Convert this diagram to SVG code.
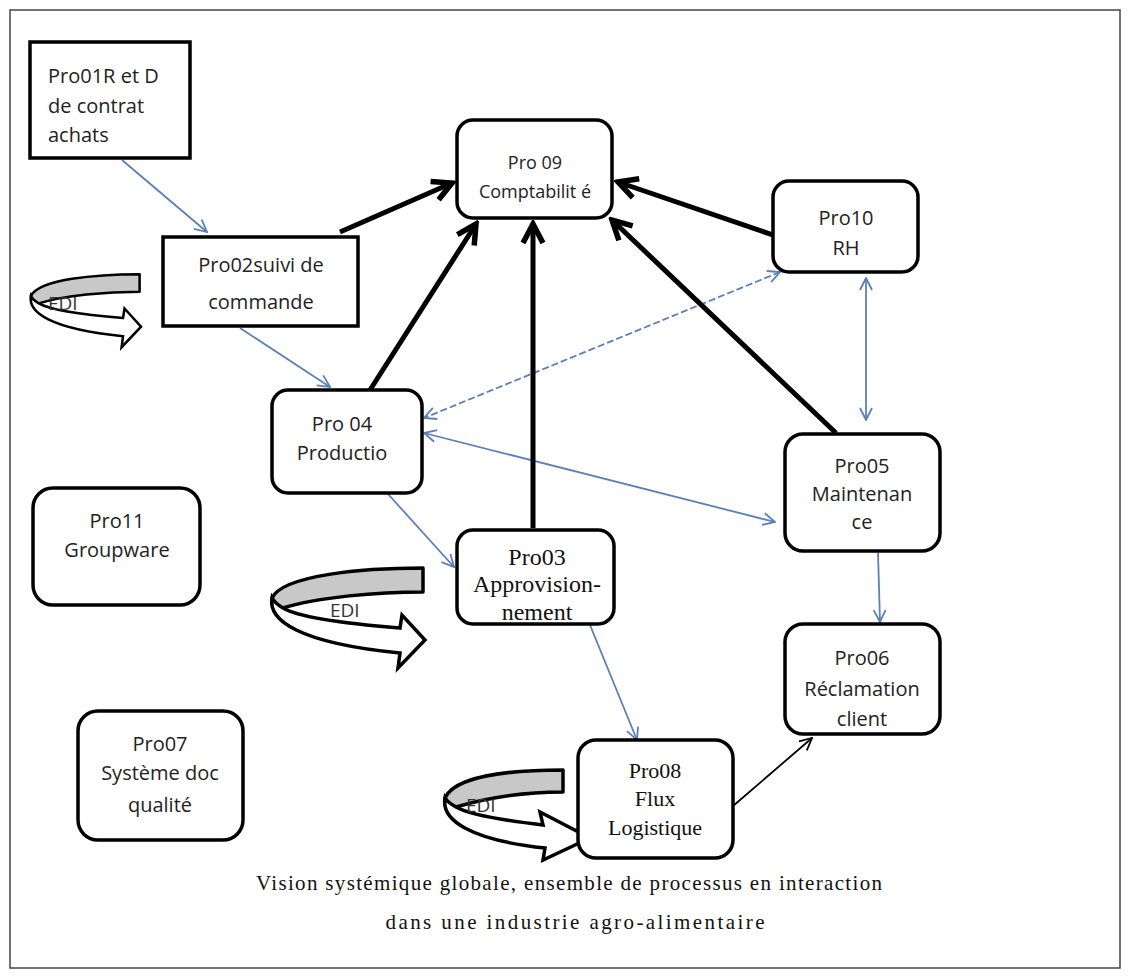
<svg xmlns="http://www.w3.org/2000/svg" width="1129" height="978" viewBox="0 0 1129 978">
<defs>
<style>
.box{fill:#fff;stroke:#000;stroke-width:3.5}
.t{font-family:"Open Sans","Liberation Sans",sans-serif;font-size:20px;fill:#222;text-anchor:middle}
.s{font-family:"Liberation Serif","Times New Roman",serif;font-size:22px;fill:#111;text-anchor:middle}
.blue{stroke:#5b80b8;stroke-width:1.8;fill:none}
.blk{stroke:#000;stroke-width:5;fill:none}
.edig{fill:#c8c8c8;stroke:#000;stroke-width:3.5;stroke-linejoin:round}
.ediw{fill:#fff;stroke:#000;stroke-width:3.5;stroke-linejoin:miter}
.edit{font-family:"Open Sans","Liberation Sans",sans-serif;font-size:19px;fill:#333}
</style>
<marker id="ba" markerUnits="userSpaceOnUse" viewBox="0 0 14 14" refX="13" refY="7" markerWidth="14" markerHeight="14" orient="auto-start-reverse">
<path d="M1,1 L13,7 L1,13" fill="none" stroke="#5b80b8" stroke-width="1.8"/>
</marker>
<marker id="ka" markerUnits="userSpaceOnUse" viewBox="0 0 26 26" refX="22" refY="13" markerWidth="26" markerHeight="26" orient="auto">
<path d="M3,3 L22,13 L3,23" fill="none" stroke="#000" stroke-width="5.5" stroke-linejoin="miter"/>
</marker>
<marker id="kt" markerUnits="userSpaceOnUse" viewBox="0 0 14 14" refX="13" refY="7" markerWidth="14" markerHeight="14" orient="auto">
<path d="M1,1 L13,7 L1,13" fill="none" stroke="#000" stroke-width="1.8"/>
</marker>
<g id="edishape">
<path class="edig" d="M155,3 C95,3 15,10 4,33 C8,40 12,43 15,43 C50,32 110,27 155,27 Z"/>
<path class="ediw" d="M4,33 C0,55 30,78 132,88 L130,103 L157,75 L134,50 L132,63 C70,58 30,52 15,43 C10,40 6,37 4,33 Z"/>
</g>
</defs>
<rect x="0" y="0" width="1129" height="978" fill="#fff"/>
<rect x="10" y="10" width="1110" height="958" fill="none" stroke="#444" stroke-width="1.5"/>

<g id="connectors">
<line class="blue" x1="122" y1="160" x2="207" y2="232" marker-end="url(#ba)"/>
<line class="blue" x1="240" y1="328" x2="330" y2="387" marker-end="url(#ba)"/>
<line class="blue" x1="388" y1="494" x2="454" y2="567" marker-end="url(#ba)"/>
<line class="blue" x1="590" y1="625" x2="637" y2="740" marker-end="url(#ba)"/>
<line class="blue" x1="878" y1="553" x2="880" y2="622" marker-end="url(#ba)"/>
<line class="blue" x1="866" y1="278" x2="866" y2="420" marker-start="url(#ba)" marker-end="url(#ba)"/>
<line class="blue" x1="780" y1="272" x2="424" y2="418" stroke-dasharray="7,3" marker-start="url(#ba)" marker-end="url(#ba)"/>
<line class="blue" x1="424" y1="433" x2="775" y2="522" marker-start="url(#ba)" marker-end="url(#ba)"/>
<line class="blk" x1="340" y1="232" x2="452" y2="183" marker-end="url(#ka)"/>
<line class="blk" x1="370" y1="390" x2="476" y2="224" marker-end="url(#ka)"/>
<line class="blk" x1="533" y1="528" x2="533" y2="224" marker-end="url(#ka)"/>
<line class="blk" x1="836" y1="433" x2="612" y2="220" marker-end="url(#ka)"/>
<line class="blk" x1="773" y1="235" x2="618" y2="182" marker-end="url(#ka)"/>
<line x1="733" y1="806" x2="812" y2="738" stroke="#000" stroke-width="1.8" marker-end="url(#kt)"/>
</g>

<g id="edi1">
<use href="#edishape" transform="translate(28,272) scale(0.72,0.73)"/>
<text class="edit" x="48" y="310" font-size="16">EDI</text>
</g>
<g id="edi2">
<use href="#edishape" transform="translate(268,565)"/>
<text class="edit" x="330" y="617">EDI</text>
</g>
<g id="edi3">
<path class="edig" d="M563,770 C510,770 455,776 445,798 C449,805 452,807 456,807 C490,797 530,792 563,792 Z"/>
<path class="ediw" d="M445,798 C441,820 470,840 545,848 L543,860 L590,838 L540,812 L543,825 C500,820 470,815 456,807 C451,804 447,802 445,798 Z"/>
<text class="edit" x="466" y="812" font-size="17">EDI</text>
</g>

<g id="pro01">
<rect x="30" y="42" width="160" height="116" fill="#fff" stroke="#000" stroke-width="3.5"/>
<text class="t" x="48" y="83" style="text-anchor:start">Pro01R et D</text>
<text class="t" x="48" y="113" style="text-anchor:start">de contrat</text>
<text class="t" x="48" y="142" style="text-anchor:start">achats</text>
</g>
<g id="pro09">
<rect class="box" x="457" y="120" width="155" height="98" rx="16"/>
<text class="t" x="535" y="169" style="font-size:18px">Pro 09</text>
<text class="t" x="535" y="198" style="font-size:18px">Comptabilit é</text>
</g>
<g id="pro10">
<rect class="box" x="773" y="181" width="145" height="91" rx="16"/>
<text class="t" x="846" y="225">Pro10</text>
<text class="t" x="846" y="255">RH</text>
</g>
<g id="pro02">
<rect x="163" y="237" width="195" height="89" fill="#fff" stroke="#000" stroke-width="3.5"/>
<text class="t" x="261" y="272">Pro02suivi de</text>
<text class="t" x="261" y="309">commande</text>
</g>
<g id="pro04">
<rect class="box" x="272" y="390" width="150" height="103" rx="16"/>
<text class="t" x="342" y="431">Pro 04</text>
<text class="t" x="342" y="460">Productio</text>
</g>
<g id="pro05">
<rect class="box" x="785" y="434" width="155" height="117" rx="18"/>
<text class="t" x="862" y="473">Pro05</text>
<text class="t" x="862" y="501">Maintenan</text>
<text class="t" x="862" y="529">ce</text>
</g>
<g id="pro11">
<rect class="box" x="33" y="488" width="167" height="117" rx="20"/>
<text class="t" x="117" y="528">Pro11</text>
<text class="t" x="117" y="557">Groupware</text>
</g>
<g id="pro03">
<rect class="box" x="457" y="530" width="157" height="94" rx="16"/>
<text class="s" x="537" y="565" style="font-size:24px">Pro03</text>
<text class="s" x="537" y="592" style="font-size:24px">Approvision-</text>
<text class="s" x="537" y="620" style="font-size:24px">nement</text>
</g>
<g id="pro06">
<rect class="box" x="785" y="624" width="155" height="110" rx="18"/>
<text class="t" x="862" y="665">Pro06</text>
<text class="t" x="862" y="696">Réclamation</text>
<text class="t" x="862" y="726">client</text>
</g>
<g id="pro07">
<rect class="box" x="78" y="711" width="165" height="129" rx="20"/>
<text class="t" x="160" y="751">Pro07</text>
<text class="t" x="160" y="780">Système doc</text>
<text class="t" x="160" y="812">qualité</text>
</g>
<g id="pro08">
<rect class="box" x="578" y="740" width="155" height="118" rx="18"/>
<text class="s" x="655" y="778">Pro08</text>
<text class="s" x="655" y="806">Flux</text>
<text class="s" x="655" y="835">Logistique</text>
</g>

<g id="caption">
<text class="s" x="569" y="890" style="font-size:21px" textLength="626">Vision systémique globale, ensemble de processus en interaction</text>
<text class="s" x="575" y="929" style="font-size:21px" textLength="379">dans une industrie agro-alimentaire</text>
</g>
</svg>
